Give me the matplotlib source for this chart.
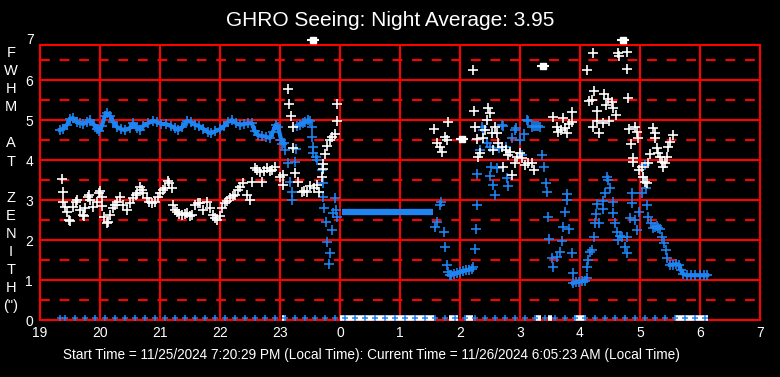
import numpy as np
import matplotlib
matplotlib.use('Agg')
import matplotlib.pyplot as plt
from matplotlib import font_manager

# Pick a narrow font for the axis text if there is one
names = {f.name for f in font_manager.fontManager.ttflist}
narrow = 'Liberation Sans Narrow' if 'Liberation Sans Narrow' in names else 'Liberation Sans'

title = 'GHRO Seeing: Night Average: 3.95'
footer = ('Start Time = 11/25/2024 7:20:29 PM (Local Time): '
          'Current Time = 11/26/2024 6:05:23 AM (Local Time)')
ylabel_letters = ['F', 'W', 'H', 'M', '', 'A', 'T', '', 'Z', 'E', 'N', 'I', 'T', 'H', '(")']
hour_labels = ['19', '20', '21', '22', '23', '0', '1', '2', '3', '4', '5', '6', '7']

# Blue trace: dense stretches (drawn as a thick line) and loose points
blue_a_x = [19.33, 19.38, 19.45, 19.5, 19.55, 19.62, 19.67, 19.72, 19.78, 19.83,
            19.9, 19.95, 19.98, 20.03, 20.08, 20.12, 20.17, 20.22, 20.28, 20.35,
            20.42, 20.5, 20.55, 20.62, 20.67, 20.72, 20.8, 20.88, 20.95, 21.02,
            21.1, 21.18, 21.25, 21.3, 21.37, 21.45, 21.52, 21.58, 21.65, 21.72,
            21.8, 21.85, 21.92, 22.0, 22.07, 22.13, 22.2, 22.27, 22.33, 22.4,
            22.47, 22.53, 22.58, 22.63, 22.7, 22.77, 22.83, 22.88, 22.93, 22.97,
            23.02, 23.07]
blue_a_y = [4.75, 4.78, 4.88, 5.02, 5.05, 4.95, 4.93, 4.9, 4.95, 5.0,
            4.88, 4.78, 4.72, 4.85, 5.1, 5.17, 5.1, 4.95, 4.83, 4.77,
            4.75, 4.8, 4.92, 4.8, 4.76, 4.85, 4.92, 4.98, 4.95, 4.9,
            4.9, 4.85, 4.8, 4.75, 4.82, 4.98, 4.95, 4.88, 4.85, 4.78,
            4.7, 4.67, 4.72, 4.77, 4.85, 4.95, 5.0, 4.92, 4.88, 4.9,
            4.92, 4.92, 4.72, 4.62, 4.6, 4.58, 4.55, 4.7, 4.88, 4.82,
            4.5, 4.42]
blue_b_x = [23.28, 23.33, 23.38, 23.42, 23.47, 23.5]
blue_b_y = [4.85, 4.88, 4.92, 4.95, 5.0, 4.97]
blue_c_x = [24.03, 24.5, 25.0, 25.55]
blue_c_y = [2.7, 2.7, 2.7, 2.7]
blue_d_x = [25.85, 25.9, 25.95, 26.0, 26.05, 26.1, 26.15, 26.2]
blue_d_y = [1.12, 1.15, 1.18, 1.2, 1.22, 1.25, 1.25, 1.28]
blue_e_x = [27.88, 27.93, 27.98, 28.03, 28.08]
blue_e_y = [0.92, 0.95, 0.95, 0.97, 0.98]
blue_f_x = [29.5, 29.55, 29.6, 29.65, 29.68, 29.72, 29.78, 29.85, 29.92, 30.0, 30.07, 30.12]
blue_f_y = [1.38, 1.38, 1.4, 1.38, 1.25, 1.15, 1.12, 1.12, 1.12, 1.12, 1.12, 1.12]

blue_pts = [
    (23.03, 4.4), (23.08, 4.25), (23.13, 3.92), (23.25, 3.95), (23.17, 3.45), (23.2, 3.2),
    (23.2, 3.0), (23.27, 4.28), (23.53, 4.83), (23.53, 4.58), (23.55, 4.33), (23.55, 4.17),
    (23.6, 4.08), (23.62, 4.0), (23.7, 3.75), (23.72, 3.42), (23.72, 3.08), (23.73, 2.8),
    (23.77, 2.45), (23.78, 1.95), (23.82, 1.4), (23.83, 1.67), (23.87, 2.25), (23.88, 2.67),
    (23.92, 3.05), (23.95, 2.58), (23.93, 2.75),
    (25.58, 2.33), (25.62, 2.45), (25.67, 2.88), (25.68, 2.95), (25.73, 2.2), (25.75, 1.83),
    (25.78, 1.38), (25.8, 1.2), (25.83, 1.12),
    (26.22, 1.33), (26.25, 1.77), (26.27, 2.27), (26.28, 2.88), (26.28, 3.65), (26.33, 4.25),
    (26.37, 4.83), (26.38, 4.75), (26.45, 4.42), (26.5, 4.33), (26.52, 3.83), (26.5, 3.6),
    (26.55, 3.38), (26.58, 3.12), (26.62, 3.8), (26.65, 4.3), (26.7, 4.88), (26.72, 4.85),
    (26.77, 4.33), (26.78, 3.55), (26.8, 3.35), (26.87, 4.55), (26.92, 4.75), (26.93, 4.8),
    (27.0, 4.5), (27.03, 4.12), (27.07, 4.65), (27.12, 5.0), (27.13, 4.98), (27.2, 4.83),
    (27.23, 4.85), (27.27, 4.85), (27.3, 4.85), (27.33, 4.83), (27.37, 4.12), (27.4, 3.83),
    (27.43, 3.42), (27.45, 3.2), (27.47, 2.58), (27.48, 2.02), (27.53, 1.55), (27.55, 1.33),
    (27.62, 1.58), (27.67, 1.7), (27.7, 1.98), (27.72, 2.33), (27.75, 2.7), (27.78, 3.0),
    (27.78, 3.15), (27.82, 2.27), (27.87, 1.68), (27.88, 1.18),
    (28.12, 1.05), (28.12, 1.33), (28.13, 1.5), (28.17, 1.7), (28.2, 1.75), (28.23, 2.07),
    (28.25, 2.42), (28.27, 2.65), (28.28, 2.9), (28.32, 2.42), (28.38, 2.77), (28.38, 2.98),
    (28.42, 3.17), (28.45, 3.58), (28.47, 3.5), (28.5, 3.3), (28.55, 2.95), (28.55, 2.67),
    (28.58, 2.42), (28.62, 2.2), (28.63, 2.0), (28.67, 2.1), (28.7, 2.08), (28.75, 1.83),
    (28.78, 1.67), (28.78, 2.08), (28.83, 2.55), (28.87, 2.92), (28.87, 3.17), (28.92, 2.5),
    (28.95, 2.25), (28.98, 2.7), (29.03, 3.17), (29.05, 3.58), (29.08, 3.88), (29.1, 3.3),
    (29.12, 2.88), (29.13, 2.58), (29.18, 2.42), (29.22, 2.3), (29.25, 2.33), (29.28, 2.35),
    (29.3, 2.3), (29.33, 2.28), (29.37, 2.08), (29.4, 1.92), (29.43, 1.75), (29.45, 1.55),
]

# White trace (loose points)
white_pts = [
    (19.37, 3.52), (19.38, 3.2), (19.38, 2.95), (19.42, 2.83), (19.45, 2.7), (19.48, 2.5),
    (19.5, 2.47), (19.55, 2.83), (19.6, 2.95), (19.62, 3.0), (19.67, 2.75), (19.72, 2.62),
    (19.73, 2.6), (19.75, 2.8), (19.8, 3.08), (19.82, 3.12), (19.83, 3.0), (19.88, 2.83),
    (19.95, 2.95), (19.98, 3.18), (20.0, 3.22), (20.03, 3.08), (20.03, 2.85), (20.07, 2.58),
    (20.12, 2.42), (20.14, 2.45), (20.17, 2.62), (20.22, 2.8), (20.25, 2.88), (20.28, 2.95),
    (20.33, 3.08), (20.38, 2.88), (20.45, 2.75), (20.5, 2.92), (20.55, 3.05), (20.6, 3.12),
    (20.62, 3.17), (20.67, 3.33), (20.7, 3.25), (20.72, 3.17), (20.78, 3.05), (20.82, 2.95),
    (20.87, 2.92), (20.92, 2.95), (20.97, 3.08), (21.0, 3.17), (21.05, 3.25), (21.08, 3.3),
    (21.13, 3.48), (21.15, 3.42), (21.2, 3.3), (21.22, 2.88), (21.25, 2.75), (21.28, 2.7),
    (21.32, 2.65), (21.37, 2.62), (21.42, 2.65), (21.45, 2.67), (21.5, 2.6), (21.53, 2.62),
    (21.58, 2.88), (21.63, 2.92), (21.67, 2.92), (21.72, 2.75), (21.78, 2.95), (21.83, 2.8),
    (21.88, 2.62), (21.92, 2.55), (21.95, 2.5), (22.0, 2.6), (22.03, 2.8), (22.08, 2.92),
    (22.12, 2.98), (22.17, 3.05), (22.22, 3.1), (22.25, 3.12), (22.3, 3.25), (22.33, 3.33),
    (22.38, 3.42), (22.45, 3.12), (22.5, 3.0), (22.53, 3.45), (22.58, 3.8), (22.62, 3.75),
    (22.67, 3.7), (22.7, 3.45), (22.73, 3.72), (22.78, 3.8), (22.83, 3.72), (22.87, 3.75),
    (22.92, 3.83), (23.0, 3.58), (23.05, 3.38), (23.05, 3.62),
    (23.13, 5.78), (23.15, 5.4), (23.18, 5.1), (23.22, 4.83), (23.22, 4.3), (23.25, 3.67),
    (23.3, 3.45), (23.37, 3.2), (23.4, 3.22), (23.45, 3.2), (23.5, 3.35), (23.57, 3.3),
    (23.62, 3.38), (23.65, 3.2), (23.7, 3.58), (23.72, 3.77), (23.72, 3.9), (23.75, 4.15),
    (23.78, 4.35), (23.83, 4.5), (23.87, 4.58), (23.92, 4.65), (23.95, 4.98), (23.95, 5.4),
    (25.57, 4.77), (25.62, 4.42), (25.67, 4.33), (25.7, 4.2), (25.75, 4.58), (25.78, 4.5),
    (25.8, 4.95), (26.22, 6.25), (26.23, 5.22), (26.25, 4.83), (26.28, 4.52), (26.3, 4.08),
    (26.33, 4.17), (26.38, 4.55), (26.42, 4.75), (26.47, 5.3), (26.5, 5.17), (26.45, 5.0),
    (26.53, 4.67), (26.55, 4.25), (26.58, 4.83), (26.62, 4.67), (26.63, 4.42), (26.7, 4.33),
    (26.72, 3.83), (26.77, 4.25), (26.8, 4.12), (26.83, 4.2), (26.87, 3.62), (26.92, 3.92),
    (26.95, 4.08), (27.0, 4.17), (27.03, 4.05), (27.08, 3.88), (27.13, 3.92), (27.2, 3.92),
    (27.23, 3.75), (27.55, 5.07), (27.62, 4.83), (27.63, 4.7), (27.72, 5.05), (27.75, 4.8),
    (27.78, 4.67), (27.87, 5.2), (27.87, 4.95), (27.68, 4.75), (27.82, 4.9),
    (28.12, 6.25), (28.22, 6.67), (28.15, 5.47), (28.2, 5.5), (28.23, 5.72), (28.28, 5.22),
    (28.22, 4.83), (28.32, 4.67), (28.28, 4.98), (28.38, 4.92), (28.4, 5.65), (28.43, 5.38),
    (28.47, 5.52), (28.53, 5.45), (28.55, 5.3), (28.6, 5.12), (28.48, 4.98), (28.63, 6.67),
    (28.65, 6.6), (28.78, 6.7), (28.78, 6.27), (28.8, 5.55), (28.82, 4.77), (28.85, 4.4),
    (28.88, 4.05), (28.88, 3.95), (28.92, 4.83), (28.95, 4.7), (28.97, 4.55), (28.98, 3.75),
    (29.03, 3.83), (29.05, 3.58), (29.08, 3.45), (29.12, 3.42), (29.13, 3.92), (29.17, 4.15),
    (29.22, 4.8), (29.25, 4.67), (29.25, 4.55), (29.28, 4.3), (29.3, 4.17), (29.33, 4.08),
    (29.37, 3.95), (29.38, 3.83), (29.42, 3.92), (29.45, 4.08), (29.47, 4.33), (29.5, 4.45),
    (29.55, 4.62),
]
white_sq = [(23.55, 7.0), (26.03, 4.53), (27.38, 6.35), (28.72, 7.0)]

# Sample times marked along the zero line
zero_blue_x = [19.33, 19.42, 19.58, 19.75, 19.92, 20.08, 20.25, 20.42, 20.58, 20.75,
               20.92, 21.08, 21.25, 21.42, 21.58, 21.75, 21.92, 22.08, 22.25, 22.42,
               22.58, 22.75, 22.92, 23.08, 23.25, 23.42, 23.58, 23.75, 23.92, 24.08,
               24.25, 24.42, 24.58, 24.75, 24.92, 25.08, 25.25, 25.42, 25.58, 25.75,
               25.92, 26.08, 26.25, 26.42, 26.58, 26.75, 26.92, 27.08, 27.25, 27.42,
               27.58, 27.75, 27.92, 28.08, 28.25, 28.42, 28.58, 28.75, 28.92, 29.08,
               29.25, 29.42, 29.58, 29.75, 29.92, 30.08]
zero_white_spans = [(23.04, 23.1), (24.0, 25.56), (25.82, 25.97), (26.1, 26.22),
                    (27.27, 27.35), (27.47, 27.53), (27.9, 28.1), (29.58, 30.13)]

BLUE = '#1E84F2'
RED = '#FF0000'
W, H = 780, 377

fig = plt.figure(figsize=(7.8, 3.77), dpi=100, facecolor='black')
ax = fig.add_axes([40 / W, (H - 320) / H, 720 / W, 275 / H])
ax.set_facecolor('black')
ax.set_xlim(19, 31)
ax.set_ylim(0, 6.875)

for sp in ax.spines.values():
    sp.set_color(RED)
    sp.set_linewidth(1.5)
    sp.set_zorder(1.5)

# grid: solid on whole units, dashed on halves
for v in range(1, 7):
    ax.axhline(v, color=RED, lw=1.5, zorder=1)
for v in np.arange(0.5, 7, 1.0):
    ax.axhline(v, color=RED, lw=1.5, ls=(0, (4.7, 4.7)), zorder=1)
for v in range(20, 31):
    ax.axvline(v, color=RED, lw=1.5, zorder=1)

ax.set_xticks(range(19, 32))
ax.set_xticklabels(hour_labels)
ax.set_yticks(range(0, 7))
ax.tick_params(length=0, colors='white', labelsize=10)
ax.tick_params(axis='y', pad=5)
ax.tick_params(axis='x', pad=4)
for lab in ax.get_xticklabels() + ax.get_yticklabels():
    lab.set_family(narrow)
ax.text(-0.008, 7.0, '7', transform=ax.get_yaxis_transform(), ha='right', va='center',
        color='white', fontsize=10, family=narrow, clip_on=False)

mk = dict(marker='+', ms=6.5, mew=1.2, ls='none', zorder=3)

# zero-line markers
for a, b in zero_white_spans:
    ax.plot([a, b], [0.06, 0.06], color='white', lw=4.0, solid_capstyle='butt',
            zorder=3.5, clip_on=False)
ax.plot(zero_blue_x, [0.06] * len(zero_blue_x), marker='+', ms=5, mew=1.1, ls='none',
        color=BLUE, zorder=4, clip_on=False)

# blue trace
for xs, ys in [(blue_a_x, blue_a_y), (blue_b_x, blue_b_y), (blue_d_x, blue_d_y),
               (blue_e_x, blue_e_y), (blue_f_x, blue_f_y)]:
    ax.plot(xs, ys, color=BLUE, lw=3.0, zorder=3)
    ax.plot(xs, ys, color=BLUE, **mk)
ax.plot(blue_c_x, blue_c_y, color=BLUE, lw=4.5, solid_capstyle='butt', zorder=3)
bx, by = zip(*blue_pts)
ax.plot(bx, by, color=BLUE, **mk)

# white trace
wx, wy = zip(*white_pts)
ax.plot(wx, wy, color='white', **mk)
sx, sy = zip(*white_sq)
ax.plot(sx, sy, marker='s', ms=4.5, color='white', ls='none', zorder=4, clip_on=False)
ax.plot(sx, sy, marker='_', ms=8, mew=1.5, color='white', ls='none', zorder=4, clip_on=False)

fig.text(390 / W, 1 - 20 / H, title, ha='center', va='center', color='white',
         fontsize=15, family='Liberation Sans')
fig.text(371 / W, 1 - 355 / H, footer, ha='center', va='center', color='white',
         fontsize=9.8, family=narrow)
for i, ch in enumerate(ylabel_letters):
    fig.text(11 / W, 1 - (53 + i * 18.1) / H, ch, ha='center', va='center',
             color='white', fontsize=10.5, family='Liberation Sans')

fig.savefig('out.png', dpi=100, facecolor='black')
